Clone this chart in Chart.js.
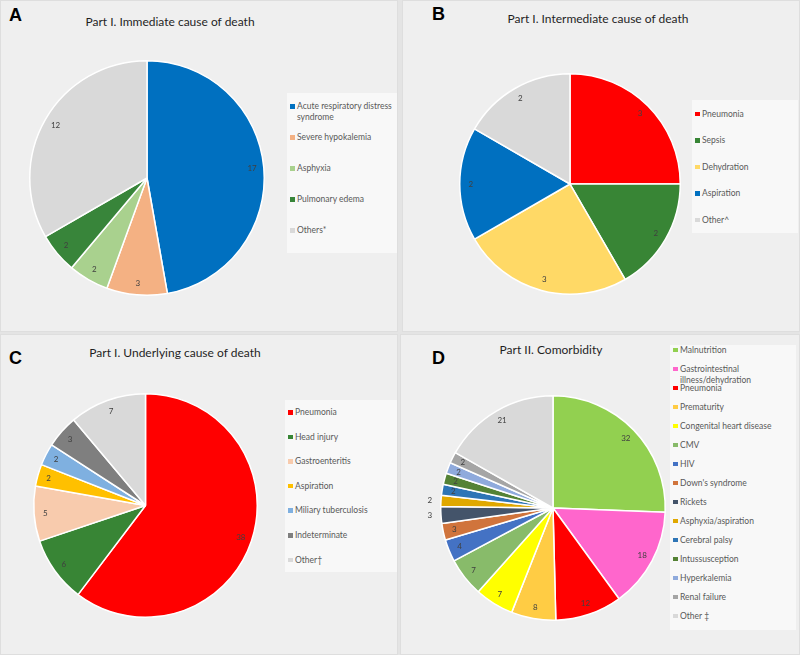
<!DOCTYPE html>
<html>
<head>
<meta charset="utf-8">
<script src="https://cdn.jsdelivr.net/npm/chart.js@4"></script>
<style>
  body { margin: 0; width: 800px; height: 655px; background: #e4e4e4; position: relative; overflow: hidden; font-family: Lato, "Open Sans", sans-serif; }
  .panel { position: absolute; background: #efefef; border: 1px solid #dedede; box-sizing: border-box; }
  .letter { position: absolute; font: bold 18px "Liberation Sans", Arial, sans-serif; color: #000; line-height: 18px; }
  .title { position: absolute; width: 300px; text-align: center; font-size: 12px; color: #1f1f1f; line-height: 14px; }
  .legend { position: absolute; background: #f8f8f8; box-sizing: border-box; }
  .item { position: absolute; left: 10px; font-size: 8.5px; color: #595959; line-height: 11px; white-space: nowrap; }
  .item i { position: absolute; left: -7px; top: 3px; width: 4.5px; height: 4.5px; }
  .pie { position: absolute; }
</style>
</head>
<body>
<script>
// Panel A: immediate cause of death
const aLabels = [['Acute respiratory distress', 'syndrome'], 'Severe hypokalemia', 'Asphyxia', 'Pulmonary edema', 'Others*'];
const aValues = [17, 3, 2, 2, 12];
const aColors = ['#0070c0', '#f4b183', '#a9d18e', '#38853a', '#d9d9d9'];

// Panel B: intermediate cause of death
const bLabels = ['Pneumonia', 'Sepsis', 'Dehydration', 'Aspiration', 'Other^'];
const bValues = [3, 2, 3, 2, 2];
const bColors = ['#ff0000', '#388535', '#ffd966', '#0070c0', '#d9d9d9'];

// Panel C: underlying cause of death
const cLabels = ['Pneumonia', 'Head injury', 'Gastroenteritis', 'Aspiration', 'Miliary tuberculosis', 'Indeterminate', 'Other\u2020'];
const cValues = [38, 6, 5, 2, 2, 3, 7];
const cColors = ['#ff0000', '#388535', '#f8cbad', '#ffc000', '#7fb0e0', '#7f7f7f', '#d9d9d9'];

// Panel D: comorbidity
const dLabels = ['Malnutrition', ['Gastrointestinal', 'illness/dehydration'], 'Pneumonia', 'Prematurity', 'Congenital heart disease',
  'CMV', 'HIV', "Down's syndrome", 'Rickets', 'Asphyxia/aspiration', 'Cerebral palsy', 'Intussusception',
  'Hyperkalemia', 'Renal failure', 'Other \u2021'];
const dValues = [32, 18, 12, 8, 7, 7, 4, 3, 3, 2, 2, 2, 2, 2, 21];
const dColors = ['#92d050', '#ff66cc', '#ff0000', '#ffcc44', '#ffff00', '#88bb6a', '#4472c4', '#d0743c', '#44546a',
  '#e0a800', '#2e75b6', '#548235', '#8faadc', '#a5a5a5', '#d9d9d9'];

const panels = [
  { letter: 'A', title: 'Part I. Immediate cause of death', labels: aLabels, values: aValues, colors: aColors,
    box: [0, 0, 398, 332], letterAt: [9, 6], titleAt: [170, 22], pie: [147, 178, 118],
    legend: [287, 93, 110, 160], firstItem: 101, pitch: 31, outside: [] },
  { letter: 'B', title: 'Part I. Intermediate cause of death', labels: bLabels, values: bValues, colors: bColors,
    box: [402, 0, 398, 332], letterAt: [432, 5], titleAt: [598, 19], pie: [570, 184, 111],
    legend: [692, 100, 106, 133], firstItem: 108.5, pitch: 26.5, outside: [] },
  { letter: 'C', title: 'Part I. Underlying cause of death', labels: cLabels, values: cValues, colors: cColors,
    box: [0, 334, 398, 321], letterAt: [9, 349], titleAt: [175, 353], pie: [145, 505, 112.5],
    legend: [285, 400, 112, 172], firstItem: 407, pitch: 24.6, outside: [] },
  { letter: 'D', title: 'Part II. Comorbidity', labels: dLabels, values: dValues, colors: dColors,
    box: [400, 334, 400, 321], letterAt: [432, 349], titleAt: [551, 350], pie: [553, 508, 113],
    legend: [670, 345, 126, 285], firstItem: 344.5, pitch: 19, outside: [8, 9] }
];

// draws the value of each slice near its outer edge
const valueLabels = {
  id: 'valueLabels',
  afterDatasetsDraw(chart, args, opts) {
    const ctx = chart.ctx;
    const data = chart.data.datasets[0].data;
    ctx.save();
    ctx.font = '8px Lato, sans-serif';
    ctx.fillStyle = '#404040';
    ctx.textAlign = 'center';
    ctx.textBaseline = 'middle';
    chart.getDatasetMeta(0).data.forEach((arc, i) => {
      const p = arc.getProps(['x', 'y', 'startAngle', 'endAngle', 'outerRadius'], true);
      const mid = (p.startAngle + p.endAngle) / 2;
      const f = opts.outside.includes(i) ? 1.1 : 0.9;
      ctx.fillText(data[i], p.x + Math.cos(mid) * p.outerRadius * f, p.y + Math.sin(mid) * p.outerRadius * f);
    });
    ctx.restore();
  }
};

function el(cls, css, html) {
  const d = document.createElement('div');
  d.className = cls;
  Object.assign(d.style, css);
  if (html !== undefined) d.innerHTML = html;
  document.body.appendChild(d);
  return d;
}

panels.forEach(p => {
  const [bx, by, bw, bh] = p.box;
  el('panel', { left: bx + 'px', top: by + 'px', width: bw + 'px', height: bh + 'px' });
  el('letter', { left: p.letterAt[0] + 'px', top: p.letterAt[1] + 'px' }, p.letter);
  el('title', { left: (p.titleAt[0] - 150) + 'px', top: (p.titleAt[1] - 7) + 'px' }, p.title);

  const [lx, ly, lw, lh] = p.legend;
  const lg = el('legend', { left: lx + 'px', top: ly + 'px', width: lw + 'px', height: lh + 'px' });
  p.labels.forEach((lab, i) => {
    const it = document.createElement('div');
    it.className = 'item';
    it.style.top = (p.firstItem - ly + i * p.pitch) + 'px';
    const txt = Array.isArray(lab) ? lab.join('<br>') : lab;
    it.innerHTML = '<i style="background:' + p.colors[i] + '"></i>' + txt;
    lg.appendChild(it);
  });

  const [cx, cy, r] = p.pie;
  const m = 22;
  const wrap = el('pie', { left: (cx - r - m) + 'px', top: (cy - r - m) + 'px', width: (2 * (r + m)) + 'px', height: (2 * (r + m)) + 'px' });
  const cv = document.createElement('canvas');
  wrap.appendChild(cv);

  new Chart(cv, {
    type: 'pie',
    data: {
      labels: p.labels,
      datasets: [{
        data: p.values,
        backgroundColor: p.colors,
        borderColor: '#ffffff',
        borderWidth: 1.5
      }]
    },
    options: {
      responsive: true,
      maintainAspectRatio: false,
      animation: false,
      layout: { padding: m },
      plugins: {
        legend: { display: false },
        tooltip: { enabled: false },
        valueLabels: { outside: p.outside }
      }
    },
    plugins: [valueLabels]
  });
});
</script>
</body>
</html>
